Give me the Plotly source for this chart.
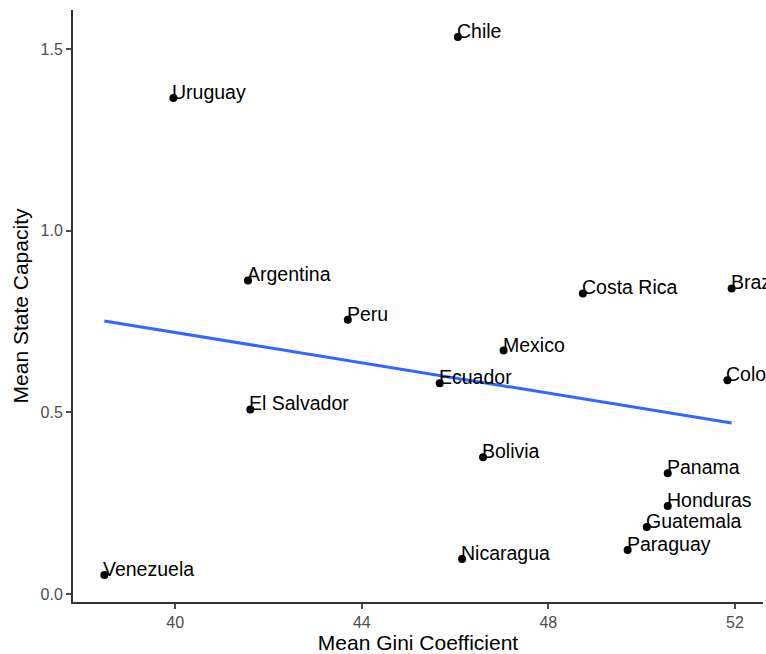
import numpy as np
import plotly.graph_objects as go

# Country means: Gini coefficient vs. state capacity
countries = ["Chile", "Uruguay", "Argentina", "Peru", "Costa Rica", "Brazil",
             "Mexico", "Ecuador", "Colombia", "El Salvador", "Bolivia", "Panama",
             "Honduras", "Guatemala", "Paraguay", "Nicaragua", "Venezuela"]
gini = [46.06, 39.96, 41.56, 43.70, 48.74, 51.93,
        47.04, 45.67, 51.84, 41.61, 46.60, 50.56,
        50.56, 50.11, 49.70, 46.15, 38.48]
capacity = [1.533, 1.365, 0.863, 0.755, 0.827, 0.841,
            0.670, 0.580, 0.588, 0.508, 0.376, 0.332,
            0.242, 0.184, 0.121, 0.096, 0.052]

x_ticks = [40, 44, 48, 52]
y_ticks = [0.0, 0.5, 1.0, 1.5]
y_tick_text = ["0.0", "0.5", "1.0", "1.5"]

# Linear fit (like geom_smooth(method = "lm", se = FALSE))
x_arr = np.array(gini)
y_arr = np.array(capacity)
slope, intercept = np.polyfit(x_arr, y_arr, 1)
fit_x = np.array([x_arr.min(), x_arr.max()])
fit_y = intercept + slope * fit_x

font = "Liberation Sans, Arial, Helvetica, sans-serif"

fig = go.Figure()
fig.add_trace(go.Scatter(
    x=fit_x, y=fit_y, mode="lines",
    line=dict(color="#3366FF", width=3), hoverinfo="skip", showlegend=False))
fig.add_trace(go.Scatter(
    x=gini, y=capacity, mode="markers",
    marker=dict(color="black", size=8), showlegend=False, cliponaxis=False))

for name, gx, cy in zip(countries, gini, capacity):
    fig.add_annotation(
        x=gx, y=cy, xref="x", yref="y", text=name, showarrow=False,
        xanchor="left", yanchor="bottom", xshift=-3, yshift=-7,
        font=dict(family=font, size=19.5, color="black"))

x_span = x_arr.max() - x_arr.min()
y_span = y_arr.max() - y_arr.min()

axis_common = dict(
    showgrid=False, zeroline=False, showline=True, linecolor="#333333", linewidth=2,
    ticks="outside", ticklen=5, tickwidth=1.5, tickcolor="#4D4D4D",
    tickfont=dict(family=font, size=16, color="#4D4D4D"),
    title_font=dict(family=font, size=21, color="black"),
)

fig.update_layout(
    width=766, height=654,
    margin=dict(l=73, r=3, t=10, b=52),
    paper_bgcolor="white", plot_bgcolor="white",
    xaxis=dict(range=[x_arr.min() - 0.05 * x_span, x_arr.max() + 0.05 * x_span],
               tickvals=x_ticks, title=dict(text="Mean Gini Coefficient", standoff=4),
               **axis_common),
    yaxis=dict(range=[y_arr.min() - 0.05 * y_span, y_arr.max() + 0.05 * y_span],
               tickvals=y_ticks, ticktext=y_tick_text,
               title=dict(text="Mean State Capacity", standoff=6),
               **axis_common),
)

fig.write_html("out.html")
